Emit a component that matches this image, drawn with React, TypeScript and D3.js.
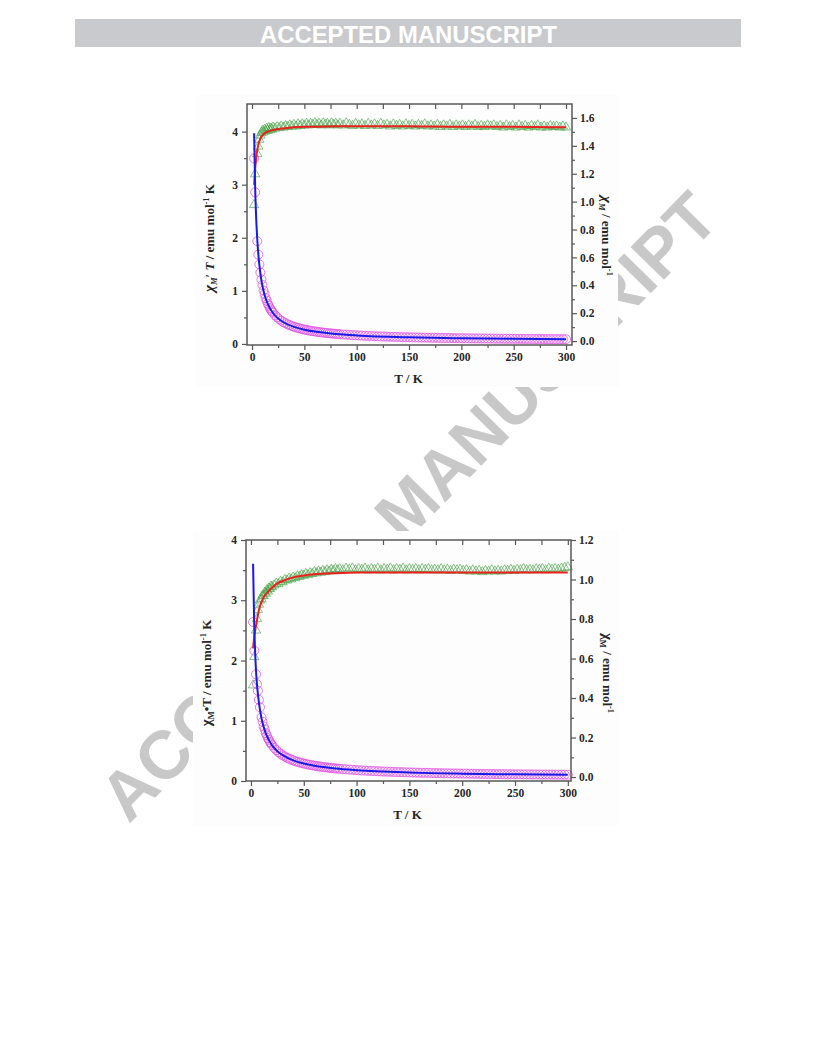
import { useRef, useEffect } from 'react';
import * as d3 from 'd3';

const SERIF = '"Liberation Serif", "Times New Roman", Times, serif';
const SANS = '"Liberation Sans", Arial, Helvetica, sans-serif';

const C = {
  tri: '#3d9e3d',
  circ: '#e04ce0',
  red: '#ec1f1f',
  blue: '#1a1ae8',
  axis: '#585858',
  text: '#262626',
  banner: '#c9cacd',
  mark: '#c8c8c8',
};

// ---- temperatures (K); the low-T part differs per sample, the rest is shared
const tempLowA = [2, 3, 5, 6, 7, 8, 9, 10, 11, 12, 13, 14, 15, 16, 17, 18, 19, 20];
const tempLowB = [2, 3.2, 4.8, 5.7, 6.5, 7.5, 8.5, 10, 11, 12, 13, 14, 15, 16, 17, 18, 19, 20];
const tempRest = [22, 24, 26, 28, 30, 32, 34, 36, 38, 40, 42, 44, 46, 48, 50, 52, 54, 56, 58, 60,
  62, 64, 66, 68, 70, 72, 74, 76, 78, 80, 82,
  84, 87, 90, 93, 96, 99, 102, 105, 108, 111,
  114, 117, 120, 123, 126, 129, 132, 135, 138, 141,
  144, 147, 150, 153, 156, 159, 162, 165, 168, 171,
  174, 177, 180, 183, 186, 189, 192, 195, 198, 201,
  204, 207, 210, 213, 216, 219, 222, 225, 228, 231,
  234, 237, 240, 243, 246, 249, 252, 255, 258, 261,
  264, 267, 270, 273, 276, 279, 282, 285, 288, 291,
  294, 297, 300];

// ---- upper panel: chiM*T (triangles, left axis) and chiM (circles, right axis)
const chiTA = [2.62, 3.2, 3.58, 3.72, 3.85, 3.93, 3.98, 4.02, 3.99, 4.04, 4.01, 4.06, 4.02, 4.07, 4.03, 4.06, 4.04, 4.08,
  4.06, 4.09, 4.07, 4.1, 4.08, 4.11, 4.09, 4.12, 4.1, 4.13, 4.1, 4.14, 4.11, 4.14, 4.12, 4.15, 4.12, 4.15, 4.13, 4.16,
  4.13, 4.15, 4.12, 4.16, 4.13, 4.15, 4.12, 4.16, 4.13, 4.15, 4.12,
  4.15, 4.12, 4.16, 4.13, 4.11, 4.15, 4.12, 4.14, 4.11, 4.15,
  4.12, 4.14, 4.11, 4.15, 4.12, 4.13, 4.1, 4.14, 4.11, 4.13,
  4.1, 4.14, 4.11, 4.13, 4.1, 4.13, 4.11, 4.14, 4.1, 4.12,
  4.1, 4.13, 4.09, 4.12, 4.1, 4.13, 4.09, 4.12, 4.1, 4.12,
  4.09, 4.12, 4.1, 4.13, 4.09, 4.11, 4.09, 4.12, 4.1, 4.12,
  4.09, 4.11, 4.08, 4.12, 4.09, 4.11, 4.08, 4.12, 4.09, 4.11,
  4.08, 4.11, 4.09, 4.12, 4.08, 4.1, 4.08, 4.11, 4.09, 4.1,
  4.08, 4.1, 4.08];
const chiMA = [1.31, 1.067, 0.716, 0.62, 0.55, 0.491, 0.442, 0.402, 0.363, 0.337, 0.308, 0.29, 0.268, 0.254, 0.237, 0.2255, 0.2126, 0.204,
  0.1845, 0.1704, 0.1565, 0.1464, 0.136, 0.1284, 0.1203, 0.1144, 0.1079, 0.1033, 0.0976, 0.0941, 0.0893, 0.0863, 0.0824, 0.0798, 0.0763, 0.0741, 0.0712, 0.0693,
  0.0666, 0.0648, 0.0624, 0.0612, 0.059, 0.0576, 0.0557, 0.0547, 0.0529, 0.0519, 0.0502,
  0.0494, 0.0474, 0.0462, 0.0444, 0.0428, 0.0419, 0.0404, 0.0394, 0.0381, 0.0374,
  0.0361, 0.0354, 0.0343, 0.0337, 0.0327, 0.032, 0.0311, 0.0307, 0.0298, 0.0293,
  0.0285, 0.0282, 0.0274, 0.027, 0.0263, 0.026, 0.0254, 0.0251, 0.0244, 0.0241,
  0.0236, 0.0233, 0.0227, 0.0225, 0.022, 0.0219, 0.0213, 0.0211, 0.0207, 0.0205,
  0.02, 0.0199, 0.0195, 0.0194, 0.0189, 0.0188, 0.0184, 0.0183, 0.018, 0.0178,
  0.0175, 0.0173, 0.017, 0.017, 0.0166, 0.0165, 0.0162, 0.0162, 0.0159, 0.0157,
  0.0155, 0.0154, 0.0151, 0.0151, 0.0148, 0.0147, 0.0145, 0.0144, 0.0142, 0.0141,
  0.0139, 0.0138, 0.0136];
const fitTempA = [2, 3, 4, 5, 6, 8, 10, 12, 15, 20, 25, 30, 40, 50, 60, 80, 100, 150, 200, 250, 300];
const fitChiTA = [3.0, 3.3, 3.5, 3.65, 3.75, 3.87, 3.93, 3.97, 4.0, 4.03, 4.05, 4.06, 4.08, 4.09, 4.09, 4.1, 4.1, 4.1, 4.09, 4.09, 4.08];
const fitChiMA = [1.49, 1.1, 0.875, 0.73, 0.625, 0.484, 0.393, 0.331, 0.267, 0.2015, 0.162, 0.135, 0.102, 0.0818, 0.0682, 0.0513, 0.041, 0.0273, 0.0205, 0.0164, 0.0136];

// ---- lower panel
const chiTB = [1.59, 2.06, 2.5, 2.69, 2.84, 2.93, 3.0, 3.02, 3.08, 3.07, 3.13, 3.11, 3.17, 3.15, 3.2, 3.19, 3.23, 3.22,
  3.25, 3.28, 3.27, 3.31, 3.3, 3.34, 3.33, 3.36, 3.35, 3.38, 3.37, 3.4, 3.39, 3.42, 3.41, 3.44, 3.42, 3.45, 3.44, 3.47,
  3.45, 3.48, 3.46, 3.49, 3.47, 3.5, 3.48, 3.51, 3.49, 3.52, 3.5,
  3.52, 3.5, 3.53, 3.51, 3.53, 3.5, 3.52, 3.51, 3.53, 3.5,
  3.52, 3.51, 3.53, 3.5, 3.52, 3.51, 3.53, 3.5, 3.52, 3.51,
  3.53, 3.5, 3.52, 3.51, 3.52, 3.5, 3.52, 3.51, 3.52, 3.5,
  3.51, 3.5, 3.52, 3.5, 3.51, 3.49, 3.51, 3.5, 3.51, 3.49,
  3.5, 3.48, 3.5, 3.48, 3.49, 3.47, 3.49, 3.48, 3.5, 3.48,
  3.49, 3.48, 3.5, 3.49, 3.51, 3.49, 3.51, 3.5, 3.52, 3.5,
  3.51, 3.5, 3.52, 3.51, 3.52, 3.5, 3.53, 3.51, 3.52, 3.51,
  3.53, 3.54, 3.55];
const chiMB = [0.785, 0.64, 0.52, 0.47, 0.437, 0.391, 0.353, 0.302, 0.28, 0.256, 0.241, 0.222, 0.211, 0.197, 0.188, 0.177, 0.17, 0.161,
  0.1477, 0.1367, 0.1258, 0.1182, 0.11, 0.1044, 0.0979, 0.0933, 0.0882, 0.0845, 0.0802, 0.0773, 0.0737, 0.0713, 0.0682, 0.0662, 0.0633, 0.0616, 0.0593, 0.0578,
  0.0556, 0.0544, 0.0524, 0.0513, 0.0496, 0.0486, 0.047, 0.0462, 0.0447, 0.044, 0.0427,
  0.0419, 0.0402, 0.0392, 0.0377, 0.0368, 0.0354, 0.0345, 0.0334, 0.0327, 0.0315,
  0.0309, 0.03, 0.0294, 0.0285, 0.0279, 0.0272, 0.0267, 0.0259, 0.0255, 0.0249,
  0.0245, 0.0238, 0.0235, 0.0229, 0.0226, 0.022, 0.0217, 0.0213, 0.021, 0.0205,
  0.0202, 0.0198, 0.0196, 0.0191, 0.0189, 0.0185, 0.0183, 0.0179, 0.0177, 0.0174,
  0.0172, 0.0168, 0.0167, 0.0163, 0.0162, 0.0158, 0.0157, 0.0155, 0.0154, 0.0151,
  0.0149, 0.0147, 0.0146, 0.0144, 0.0143, 0.014, 0.0139, 0.0137, 0.0136, 0.0134,
  0.0133, 0.0131, 0.013, 0.0129, 0.0128, 0.0125, 0.0125, 0.0123, 0.0122, 0.0121,
  0.012, 0.0119, 0.0118];
const fitTempB = [2, 3, 4, 5, 6, 8, 10, 12, 15, 20, 25, 30, 40, 50, 60, 80, 100, 150, 200, 250, 300];
const fitChiTB = [2.2, 2.38, 2.5, 2.6, 2.7, 2.87, 2.97, 3.05, 3.12, 3.21, 3.28, 3.32, 3.38, 3.41, 3.43, 3.45, 3.46, 3.46, 3.46, 3.46, 3.46];
const fitChiMB = [1.08, 0.793, 0.625, 0.52, 0.45, 0.359, 0.297, 0.254, 0.208, 0.1605, 0.131, 0.111, 0.0845, 0.0682, 0.0572, 0.0431, 0.0346, 0.0231, 0.0173, 0.0138, 0.0115];

// ---- ticks
const xTicks = [0, 50, 100, 150, 200, 250, 300];
const xMinor = [25, 75, 125, 175, 225, 275];
const leftTicks = [0, 1, 2, 3, 4];
const leftMinor = [0.5, 1.5, 2.5, 3.5];
const rightTicksA = [0, 0.2, 0.4, 0.6, 0.8, 1.0, 1.2, 1.4, 1.6];
const rightMinorA = [0.1, 0.3, 0.5, 0.7, 0.9, 1.1, 1.3, 1.5];
const rightTicksB = [0, 0.2, 0.4, 0.6, 0.8, 1.0, 1.2];
const rightMinorB = [0.1, 0.3, 0.5, 0.7, 0.9, 1.1];

type Part = { t: string; it?: boolean; sub?: boolean; sup?: boolean; big?: boolean };
type G = d3.Selection<SVGGElement, unknown, null, undefined>;

interface Panel {
  box: [number, number, number, number];
  left: number; right: number; top: number; bottom: number;
  xDomain: [number, number];
  yLeftDomain: [number, number];
  yRightDomain: [number, number];
  temp: number[]; chiT: number[]; chiM: number[];
  fitTemp: number[]; fitChiT: number[]; fitChiM: number[];
  rightTicks: number[]; rightMinor: number[];
  leftLabel: Part[]; rightLabel: Part[];
  leftLabelPos: [number, number]; rightLabelPos: [number, number];
}

const panels: Panel[] = [
  {
    box: [195, 95, 423, 292],
    left: 247, right: 572, top: 104, bottom: 345,
    xDomain: [-4.8, 305.7],
    yLeftDomain: [-0.02, 4.52],
    yRightDomain: [-0.028, 1.7],
    temp: [...tempLowA, ...tempRest], chiT: chiTA, chiM: chiMA,
    fitTemp: fitTempA, fitChiT: fitChiTA, fitChiM: fitChiMA,
    rightTicks: rightTicksA, rightMinor: rightMinorA,
    leftLabel: [{ t: 'χ', it: true, big: true }, { t: 'M', it: true, sub: true }, { t: '′ ' }, { t: 'T', it: true }, { t: ' / emu mol' }, { t: '-1', sup: true }, { t: ' K' }],
    rightLabel: [{ t: 'χ', it: true, big: true }, { t: 'M', it: true, sub: true }, { t: ' / emu mol' }, { t: '-1', sup: true }],
    leftLabelPos: [214, 238],
    rightLabelPos: [602, 236],
  },
  {
    box: [193, 531, 425, 295],
    left: 246, right: 571, top: 540, bottom: 781,
    xDomain: [-4.7, 303],
    yLeftDomain: [0, 4],
    yRightDomain: [-0.02, 1.2],
    temp: [...tempLowB, ...tempRest], chiT: chiTB, chiM: chiMB,
    fitTemp: fitTempB, fitChiT: fitChiTB, fitChiM: fitChiMB,
    rightTicks: rightTicksB, rightMinor: rightMinorB,
    leftLabel: [{ t: 'χ', big: true }, { t: 'M', sub: true }, { t: '•' }, { t: 'T' }, { t: ' / emu mol' }, { t: '-1', sup: true }, { t: ' K' }],
    rightLabel: [{ t: 'χ', big: true }, { t: 'M', sub: true }, { t: ' / emu mol' }, { t: '-1', sup: true }],
    leftLabelPos: [211, 673],
    rightLabelPos: [603, 673],
  },
];

function addLabel(g: G, x: number, y: number, rot: number, parts: Part[]) {
  const text = g.append('text')
    .attr('transform', `translate(${x},${y}) rotate(${rot})`)
    .attr('text-anchor', 'middle')
    .attr('font-family', SERIF)
    .attr('font-weight', 'bold')
    .attr('font-size', 13)
    .attr('fill', C.text);
  let shift = 0;
  for (const p of parts) {
    const target = p.sub ? 3 : p.sup ? -5 : 0;
    text.append('tspan')
      .attr('dy', target - shift)
      .attr('font-style', p.it ? 'italic' : 'normal')
      .attr('font-size', p.sub || p.sup ? 8.5 : p.big ? 15 : 13)
      .text(p.t);
    shift = target;
  }
}

function styleAxis(sel: G) {
  sel.select('.domain').remove();
  sel.selectAll('line').attr('stroke', C.axis).attr('stroke-width', 1.2);
  sel.selectAll('text')
    .attr('fill', C.text)
    .attr('font-family', SERIF)
    .attr('font-weight', 'bold')
    .attr('font-size', 11.5);
}

function drawPanel(root: G, p: Panel) {
  const g = root.append('g');
  // picture background (hides the watermark)
  g.append('rect')
    .attr('x', p.box[0]).attr('y', p.box[1])
    .attr('width', p.box[2]).attr('height', p.box[3])
    .attr('fill', '#fdfdfd');

  const x = d3.scaleLinear().domain(p.xDomain).range([p.left, p.right]);
  const yL = d3.scaleLinear().domain(p.yLeftDomain).range([p.bottom, p.top]);
  const yR = d3.scaleLinear().domain(p.yRightDomain).range([p.bottom, p.top]);

  const tri = d3.symbol().type(d3.symbolTriangle).size(38);
  g.append('g').selectAll('path')
    .data(d3.zip(p.temp, p.chiT))
    .join('path')
    .attr('transform', d => `translate(${x(d[0])},${yL(d[1])})`)
    .attr('d', tri)
    .attr('fill', 'none')
    .attr('stroke', C.tri)
    .attr('stroke-opacity', 0.6)
    .attr('stroke-width', 1);

  g.append('g').selectAll('circle')
    .data(d3.zip(p.temp, p.chiM))
    .join('circle')
    .attr('cx', d => x(d[0]))
    .attr('cy', d => yR(d[1]))
    .attr('r', 4.5)
    .attr('fill', 'none')
    .attr('stroke', C.circ)
    .attr('stroke-opacity', 0.75)
    .attr('stroke-width', 1);

  const lineL = d3.line<[number, number]>().x(d => x(d[0])).y(d => yL(d[1])).curve(d3.curveMonotoneX);
  const lineR = d3.line<[number, number]>().x(d => x(d[0])).y(d => yR(d[1])).curve(d3.curveMonotoneX);
  g.append('path')
    .attr('d', lineL(d3.zip(p.fitTemp, p.fitChiT) as [number, number][]))
    .attr('fill', 'none').attr('stroke', C.red).attr('stroke-width', 2);
  g.append('path')
    .attr('d', lineR(d3.zip(p.fitTemp, p.fitChiM) as [number, number][]))
    .attr('fill', 'none').attr('stroke', C.blue).attr('stroke-width', 2);

  // frame
  g.append('rect')
    .attr('x', p.left).attr('y', p.top)
    .attr('width', p.right - p.left).attr('height', p.bottom - p.top)
    .attr('fill', 'none').attr('stroke', C.axis).attr('stroke-width', 1.5);

  // axes
  g.append('g').attr('transform', `translate(0,${p.bottom})`)
    .call(d3.axisBottom(x).tickValues(xTicks).tickSize(5).tickSizeOuter(0).tickPadding(3).tickFormat(d3.format('d')))
    .call(styleAxis);
  g.append('g').attr('transform', `translate(0,${p.bottom})`)
    .call(d3.axisBottom(x).tickValues(xMinor).tickSize(3).tickSizeOuter(0).tickFormat(() => ''))
    .call(styleAxis);
  g.append('g').attr('transform', `translate(0,${p.top})`)
    .call(d3.axisTop(x).tickValues([...xTicks, ...xMinor]).tickSize(-5).tickSizeOuter(0).tickFormat(() => ''))
    .call(styleAxis);

  g.append('g').attr('transform', `translate(${p.left},0)`)
    .call(d3.axisLeft(yL).tickValues(leftTicks).tickSize(5).tickSizeOuter(0).tickPadding(4).tickFormat(d3.format('d')))
    .call(styleAxis);
  g.append('g').attr('transform', `translate(${p.left},0)`)
    .call(d3.axisLeft(yL).tickValues(leftMinor).tickSize(3).tickSizeOuter(0).tickFormat(() => ''))
    .call(styleAxis);

  g.append('g').attr('transform', `translate(${p.right},0)`)
    .call(d3.axisRight(yR).tickValues(p.rightTicks).tickSize(5).tickSizeOuter(0).tickPadding(3).tickFormat(d3.format('.1f')))
    .call(styleAxis);
  g.append('g').attr('transform', `translate(${p.right},0)`)
    .call(d3.axisRight(yR).tickValues(p.rightMinor).tickSize(3).tickSizeOuter(0).tickFormat(() => ''))
    .call(styleAxis);

  // titles
  g.append('text')
    .attr('x', (p.left + p.right) / 2 - 1)
    .attr('y', p.bottom + 38)
    .attr('text-anchor', 'middle')
    .attr('font-family', SERIF)
    .attr('font-weight', 'bold')
    .attr('font-size', 13)
    .attr('fill', C.text)
    .text('T / K');
  addLabel(g, p.leftLabelPos[0], p.leftLabelPos[1], -90, p.leftLabel);
  addLabel(g, p.rightLabelPos[0], p.rightLabelPos[1], 90, p.rightLabel);
}

export default function App() {
  const svgRef = useRef<SVGSVGElement>(null);

  useEffect(() => {
    if (!svgRef.current) return;
    const svg = d3.select(svgRef.current);
    svg.selectAll('*').remove();
    const root = svg.append('g') as unknown as G;

    // banner
    root.append('rect')
      .attr('x', 75).attr('y', 19).attr('width', 666).attr('height', 28)
      .attr('fill', C.banner);
    root.append('text')
      .attr('x', 408.5).attr('y', 43)
      .attr('text-anchor', 'middle')
      .attr('font-family', SANS)
      .attr('font-weight', 'bold')
      .attr('font-size', 23)
      .attr('fill', '#ffffff')
      .attr('textLength', 297)
      .attr('lengthAdjust', 'spacingAndGlyphs')
      .text('ACCEPTED MANUSCRIPT');

    // diagonal watermark, sits behind the figure pictures
    root.append('text')
      .attr('transform', 'translate(408,506) rotate(-45.5)')
      .attr('text-anchor', 'middle')
      .attr('dominant-baseline', 'central')
      .attr('font-family', SANS)
      .attr('font-weight', 'bold')
      .attr('font-size', 68)
      .attr('fill', C.mark)
      .attr('textLength', 846)
      .attr('lengthAdjust', 'spacingAndGlyphs')
      .text('ACCEPTED MANUSCRIPT');

    for (const p of panels) drawPanel(root, p);
  }, []);

  return (
    <svg
      ref={svgRef}
      width={816}
      height={1056}
      style={{ position: 'absolute', left: 0, top: 0, background: '#ffffff' }}
    />
  );
}
